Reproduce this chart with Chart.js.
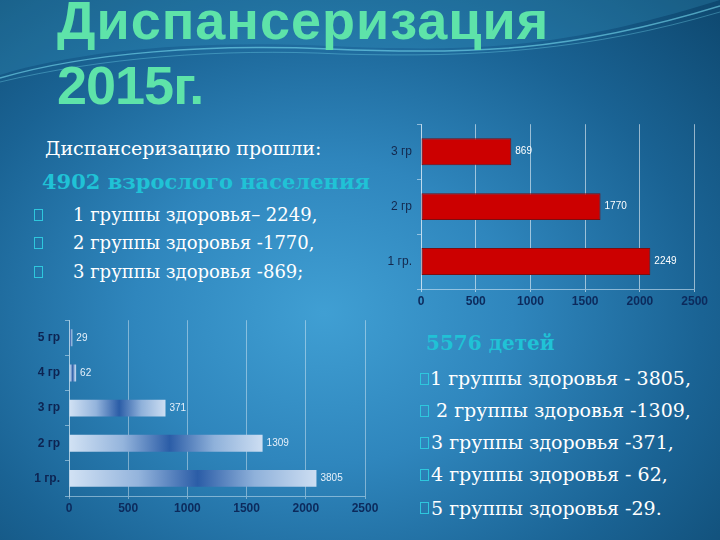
<!DOCTYPE html>
<html lang="ru">
<head>
<meta charset="utf-8">
<script src="https://cdn.jsdelivr.net/npm/chart.js@4.4.0/dist/chart.umd.min.js"></script>
<style>
  html, body { margin: 0; padding: 0; }
  body {
    width: 720px; height: 540px; overflow: hidden; position: relative;
    background: radial-gradient(ellipse 75% 80% at 45% 58%, #409fd3 0%, #2f86bd 35%, #1a6394 70%, #0f4a72 100%);
  }
  .wave { position: absolute; left: 0; top: 0; }
  .title {
    position: absolute; margin: 0;
    font: bold 54px/60px "Liberation Sans", Arial, sans-serif;
    color: #5ee3a9; white-space: nowrap;
  }
  .txt {
    position: absolute; white-space: nowrap; color: #ffffff;
    font-family: "DejaVu Serif", "Liberation Serif", serif;
    height: 28px; line-height: 28px;
  }
  .hl { color: #20c2d6; font-weight: bold; }
  .box {
    position: absolute; width: 7px; height: 10px; border: 1px solid #2ec7dd;
  }
  canvas { position: absolute; }
</style>
</head>
<body>
<svg class="wave" width="720" height="130">
  <path d="M0,75 C80,50 200,40 330,46 C470,52 560,50 720,0 L720,0 L0,0 Z" fill="rgba(70,190,230,0.18)"/>
  <path d="M0,78 C90,52 210,44 330,49 C470,55 570,52 720,6" fill="none" stroke="rgba(120,220,240,0.6)" stroke-width="1.5"/>
  <path d="M0,82 C100,58 220,48 340,54 C480,58 590,50 720,12" fill="none" stroke="rgba(120,220,240,0.35)" stroke-width="1"/>
</svg>

<div class="title" style="left:57px; top:-10px; letter-spacing:1px;">Диспансеризация</div>
<div class="title" style="left:57px; top:55px; letter-spacing:-1px;">2015г.</div>

<div class="txt" style="left:45px; top:134px; font-size:19px;">Диспансеризацию прошли:</div>
<div class="txt hl" style="left:42px; top:168px; font-size:21px;">4902 взрослого населения</div>
<div class="box" style="left:34px; top:209px;"></div>
<div class="txt" style="left:73px; top:201px; font-size:18px;">1 группы здоровья– 2249,</div>
<div class="box" style="left:34px; top:237px;"></div>
<div class="txt" style="left:73px; top:229px; font-size:18px;">2 группы здоровья -1770,</div>
<div class="box" style="left:34px; top:266px;"></div>
<div class="txt" style="left:73px; top:258px; font-size:18px;">3 группы здоровья -869;</div>

<div class="txt hl" style="left:426px; top:329px; font-size:20px;">5576 детей</div>
<div class="box" style="left:420px; top:373px;"></div>
<div class="txt" style="left:430px; top:364px; font-size:19px;">1 группы здоровья - 3805,</div>
<div class="box" style="left:420px; top:405px;"></div>
<div class="txt" style="left:436px; top:396px; font-size:19px;">2 группы здоровья -1309,</div>
<div class="box" style="left:420px; top:437px;"></div>
<div class="txt" style="left:431px; top:428px; font-size:19px;">3 группы здоровья -371,</div>
<div class="box" style="left:420px; top:469px;"></div>
<div class="txt" style="left:431px; top:460px; font-size:19px;">4 группы здоровья - 62,</div>
<div class="box" style="left:420px; top:502px;"></div>
<div class="txt" style="left:431px; top:494px; font-size:19px;">5 группы здоровья -29.</div>

<canvas id="adultChart" width="340" height="200" style="left:370px; top:112px;"></canvas>
<canvas id="childChart" width="370" height="215" style="left:15px; top:308px;"></canvas>

<script>
// adults chart (red) - bar lengths as drawn, labels as printed
const adultCategories = ['3 гр', '2 гр', '1 гр.'];
const adultBars = [825, 1640, 2095];
const adultLabels = ['869', '1770', '2249'];

// children chart (blue gradient)
const childCategories = ['5 гр', '4 гр', '3 гр', '2 гр', '1 гр.'];
const childBars = [28, 60, 815, 1635, 2090];
const childLabels = ['29', '62', '371', '1309', '3805'];

const xTicks = [0, 500, 1000, 1500, 2000, 2500];

// draws the printed value right of each bar
const barTextPlugin = {
  id: 'barText',
  afterDatasetsDraw(chart, args, opts) {
    const ctx = chart.ctx;
    const meta = chart.getDatasetMeta(0);
    ctx.save();
    ctx.fillStyle = opts.color;
    ctx.font = opts.font;
    ctx.textAlign = 'left';
    ctx.textBaseline = 'middle';
    meta.data.forEach((bar, i) => {
      ctx.fillText(opts.texts[i], bar.x + opts.gap, bar.y);
    });
    ctx.restore();
  }
};

function makeOptions(cfg) {
  return {
    indexAxis: 'y',
    responsive: false,
    animation: false,
    layout: { padding: { top: cfg.padTop, right: cfg.padRight, left: 0, bottom: 0 } },
    scales: {
      x: {
        min: 0, max: 2500,
        afterBuildTicks: axis => { axis.ticks = xTicks.map(v => ({ value: v })); },
        afterFit: axis => { axis.height = cfg.xHeight; },
        grid: { color: cfg.gridColor, lineWidth: 1, drawTicks: true, tickLength: 3 },
        border: { color: cfg.axisColor, width: 1 },
        ticks: {
          color: '#0c2a5c',
          font: { family: 'Liberation Sans, Arial, sans-serif', size: 12, weight: 'bold' },
          padding: 2,
          callback: v => String(v)
        }
      },
      y: {
        afterFit: axis => { axis.width = cfg.yWidth; },
        grid: { drawOnChartArea: false, color: cfg.axisColor, tickLength: 4 },
        border: { color: cfg.axisColor, width: 1 },
        ticks: {
          color: cfg.catColor,
          font: { family: 'Liberation Sans, Arial, sans-serif', size: 12, weight: cfg.catWeight },
          padding: 5
        }
      }
    },
    plugins: {
      legend: { display: false },
      tooltip: { enabled: false },
      barText: cfg.barText
    }
  };
}

function blueGradient(context) {
  const chart = context.chart;
  if (!chart.chartArea) return '#3d70b2';
  const x0 = chart.scales.x.getPixelForValue(0);
  const x1 = chart.scales.x.getPixelForValue(context.raw);
  const g = chart.ctx.createLinearGradient(x0, 0, Math.max(x1, x0 + 1), 0);
  g.addColorStop(0, '#d2e2f4');
  g.addColorStop(0.28, '#94b4dc');
  g.addColorStop(0.52, '#2b5da7');
  g.addColorStop(0.75, '#8fb1da');
  g.addColorStop(1, '#cddef2');
  return g;
}

new Chart(document.getElementById('adultChart'), {
  type: 'bar',
  data: {
    labels: adultCategories,
    datasets: [{
      data: adultBars,
      backgroundColor: '#cc0000',
      borderColor: '#7d0d10',
      borderWidth: 1,
      borderSkipped: false,
      barPercentage: 0.98,
      categoryPercentage: 0.5
    }]
  },
  options: makeOptions({
    padTop: 10, padRight: 14, xHeight: 23, yWidth: 51,
    gridColor: 'rgba(255,255,255,0.55)', axisColor: 'rgba(210,230,245,0.6)',
    catColor: '#14284d', catWeight: 'normal',
    barText: { texts: adultLabels, color: '#ffffff', font: '10px Liberation Sans, Arial, sans-serif', gap: 4 }
  }),
  plugins: [barTextPlugin]
});

new Chart(document.getElementById('childChart'), {
  type: 'bar',
  data: {
    labels: childCategories,
    datasets: [{
      data: childBars,
      backgroundColor: blueGradient,
      borderWidth: 0,
      barPercentage: 0.96,
      categoryPercentage: 0.5
    }]
  },
  options: makeOptions({
    padTop: 10, padRight: 20, xHeight: 27, yWidth: 54,
    gridColor: 'rgba(255,255,255,0.4)', axisColor: 'rgba(200,225,240,0.55)',
    catColor: '#0d2452', catWeight: 'bold',
    barText: { texts: childLabels, color: '#e6f0fa', font: '10px Liberation Sans, Arial, sans-serif', gap: 4 }
  }),
  plugins: [barTextPlugin]
});
</script>
</body>
</html>
